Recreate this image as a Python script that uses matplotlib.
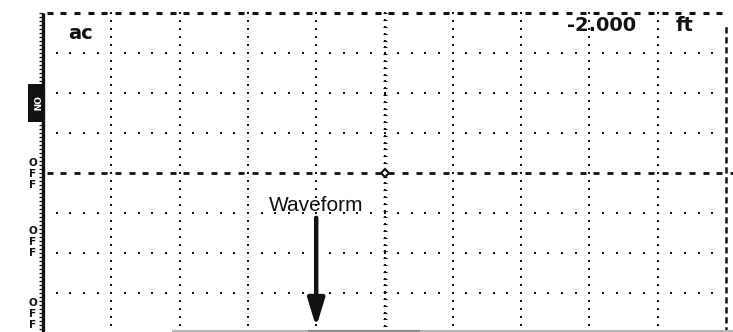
import numpy as np
import matplotlib
matplotlib.use("Agg")
import matplotlib.pyplot as plt
from matplotlib.patches import Rectangle

# screen layout (divisions)
n_xdiv = 10
n_ydiv = 8

# readouts
header_left = "ac"
header_value = "-2.000"
header_unit = "ft"
arrow_label = "Waveform"
arrow_x = 4.0
arrow_top = -1.12
arrow_tip = -3.85

# channel status labels on the left edge (y in divisions)
channel_labels = ["ON", "OFF", "OFF", "OFF"]
channel_y = [1.72, 0.25, -1.45, -3.25]

# pixel -> division mapping of the scan
px_per_xdiv = 68.3
px_per_ydiv = 40.0
x0_px, y0_px = 43, 173
W, H = 733, 332

fig = plt.figure(figsize=(W / 100, H / 100), dpi=100)
ax = fig.add_axes([0, 0, 1, 1])
ax.set_xlim(-x0_px / px_per_xdiv, (W - x0_px) / px_per_xdiv)
ax.set_ylim(-(H - y0_px) / px_per_ydiv, y0_px / px_per_ydiv)
ax.axis("off")

half = n_ydiv / 2
ink = "#111111"

# dotted graticule
ydots = np.arange(-half, half + 0.01, 0.2)
xdots = np.arange(0.2, n_xdiv - 0.01, 0.2)
for k in range(1, n_xdiv):
    if k == n_xdiv // 2:
        continue
    ax.plot(np.full_like(ydots, k), ydots, ls="none", marker="s", ms=1.5, color=ink, mew=0)
for j in range(-int(half) + 1, int(half)):
    if j == 0:
        continue
    ax.plot(xdots, np.full_like(xdots, j), ls="none", marker="s", ms=1.5, color=ink, mew=0)

# centre lines
cx = n_xdiv / 2
yc = np.arange(-half, half + 0.01, 0.17)
ax.plot(np.full_like(yc, cx), yc, ls="none", marker="s", ms=2.0, mew=0, color=ink)
ax.plot(np.full_like(yc, cx), yc, ls="none", marker="_", ms=3.0, mew=0.8, color=ink)
xd = np.arange(0, n_xdiv + 0.01, 0.2)
ax.plot(xd + 0.1, np.zeros_like(xd), ls="none", marker="_", ms=4.6, mew=2.0, color=ink)
ax.plot(cx, 0, marker="D", ms=4.5, mfc="white", mec=ink, mew=1.5)

# borders
ax.plot(xd[:-1] + 0.1, np.full_like(xd[:-1], half), ls="none", marker="_", ms=4.6, mew=2.2, color=ink)
ax.plot([0, 0], [-half - 0.2, half], color=ink, lw=2.4, solid_capstyle="butt")
yt = np.arange(-half, half + 0.01, 0.1)
ax.plot(np.full_like(yt, -0.025), yt, ls="none", marker="_", ms=2.2, mew=0.9, color=ink)
ax.plot([n_xdiv, n_xdiv], [-half, half - 0.3], color=ink, lw=1.8, dashes=(2.5, 1.5))
ax.plot([1.9, n_xdiv + 0.2], [-3.95, -3.95], color="#b5b5b5", lw=1.5)
ax.plot([3.9, 5.5], [-3.95, -3.95], color="#8a8a8a", lw=1.5)

# header readouts
ax.text(0.37, 3.35, header_left, fontsize=14, weight="bold", family="DejaVu Sans",
        color=ink, ha="left", va="baseline")
ax.text(8.68, 3.55, header_value, fontsize=14, weight="bold", family="DejaVu Sans",
        color=ink, ha="right", va="baseline")
ax.text(9.52, 3.55, header_unit, fontsize=14, weight="bold", family="DejaVu Sans",
        color=ink, ha="right", va="baseline")

# channel labels
ch_x = -0.15
for lab, y in zip(channel_labels, channel_y):
    if lab == "ON":
        ax.add_patch(Rectangle((-0.22, y - 0.45), 0.2, 0.95, color=ink, lw=0))
        ax.text(ch_x + 0.035, y + 0.02, lab, rotation=-90, fontsize=6.5, weight="bold",
                color="white", ha="center", va="center")
    else:
        for i, ch in enumerate(lab):
            ax.text(ch_x, y - i * 0.28, ch, fontsize=7.5, weight="bold", color=ink,
                    ha="center", va="center")

# waveform annotation
ax.text(arrow_x, -0.95, arrow_label, fontsize=15, family="Liberation Sans",
        color=ink, ha="center", va="baseline")
ax.annotate("", xy=(arrow_x, arrow_tip), xytext=(arrow_x, arrow_top),
            arrowprops=dict(arrowstyle="-|>,head_length=1.05,head_width=0.32", lw=3.2,
                            mutation_scale=16, color=ink, shrinkA=0, shrinkB=0))

fig.savefig("out.png", dpi=100)
